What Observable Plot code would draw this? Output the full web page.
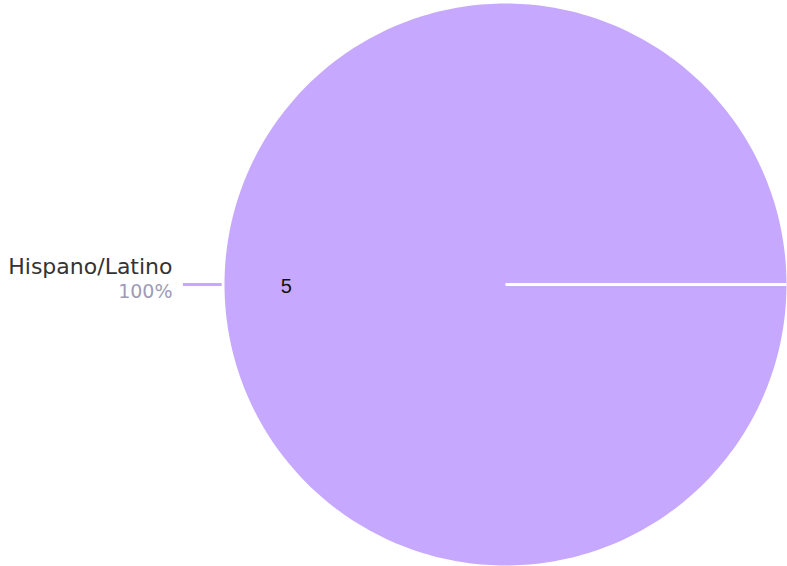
<!DOCTYPE html>
<html><head><meta charset="utf-8">
<script src="https://cdn.jsdelivr.net/npm/d3@7"></script>
<script src="https://cdn.jsdelivr.net/npm/@observablehq/plot@0.6"></script>
<style>body{margin:0;background:#fff}</style>
</head><body><div id="chart"></div>
<script>
const categories = ["Hispano/Latino"];
const values = [5];
const colors = ["#c6a9fe"];

const W = 787, H = 566, cx = 505, cy = 284, R = 281;
const total = d3.sum(values);
const pie = d3.pie().sort(null).startAngle(Math.PI/2).endAngle(Math.PI/2 + 2*Math.PI)(values);
const pt = (a, r) => [r*Math.sin(a), r*Math.cos(a)];

const slices = [];
pie.forEach((p, i) => {
  slices.push({i, x: 0, y: 0});
  const n = 360;
  for (let k = 0; k <= n; k++) {
    const a = p.startAngle + (p.endAngle - p.startAngle)*k/n;
    const [x, y] = pt(a, 1);
    slices.push({i, x, y});
  }
  slices.push({i, x: 0, y: 0});
});
const bounds = pie.map(p => { const [x, y] = pt(p.startAngle, 1); return {x1: 0, y1: 0, x2: x, y2: y}; });
const labels = pie.map((p, i) => {
  const m = (p.startAngle + p.endAngle)/2;
  const [vx, vy] = pt(m, 0.78);
  const [l1x, l1y] = pt(m, 1.01);
  const [l2x, l2y] = pt(m, 1.148);
  const [tx, ty] = pt(m, 1.185);
  return {name: categories[i], value: values[i], pct: Math.round(values[i]/total*100) + "%", vx, vy, l1x, l1y, l2x, l2y, tx, ty, color: colors[i]};
});

const chart = Plot.plot({
  width: W, height: H,
  margin: 0,
  x: {domain: [-cx/R, (W-cx)/R], range: [0, W], axis: null},
  y: {domain: [-(H-cy)/R, cy/R], range: [H, 0], axis: null},
  marks: [
    Plot.line(slices, {x: "x", y: "y", z: "i", fill: d => colors[d.i], stroke: "none", curve: "linear"}),
    Plot.link(bounds, {x1: "x1", y1: "y1", x2: "x2", y2: "y2", stroke: "white", strokeWidth: 3}),
    Plot.link(labels, {x1: "l1x", y1: "l1y", x2: "l2x", y2: "l2y", stroke: d => d.color, strokeWidth: 3}),
    Plot.text(labels, {x: "vx", y: "vy", text: d => String(d.value), fill: "#111", fontSize: 20, fontFamily: "Liberation Sans, Arial, sans-serif", textAnchor: "middle", dy: 2}),
    Plot.text(labels, {x: "tx", y: "ty", text: "name", fill: "#333", fontSize: 22, fontFamily: "DejaVu Sans, sans-serif", textAnchor: "end", dy: -18}),
    Plot.text(labels, {x: "tx", y: "ty", text: "pct", fill: "#9e9bb6", fontSize: 19, fontFamily: "DejaVu Sans, sans-serif", textAnchor: "end", dy: 7})
  ]
});
document.getElementById("chart").appendChild(chart);
</script>
</body></html>
